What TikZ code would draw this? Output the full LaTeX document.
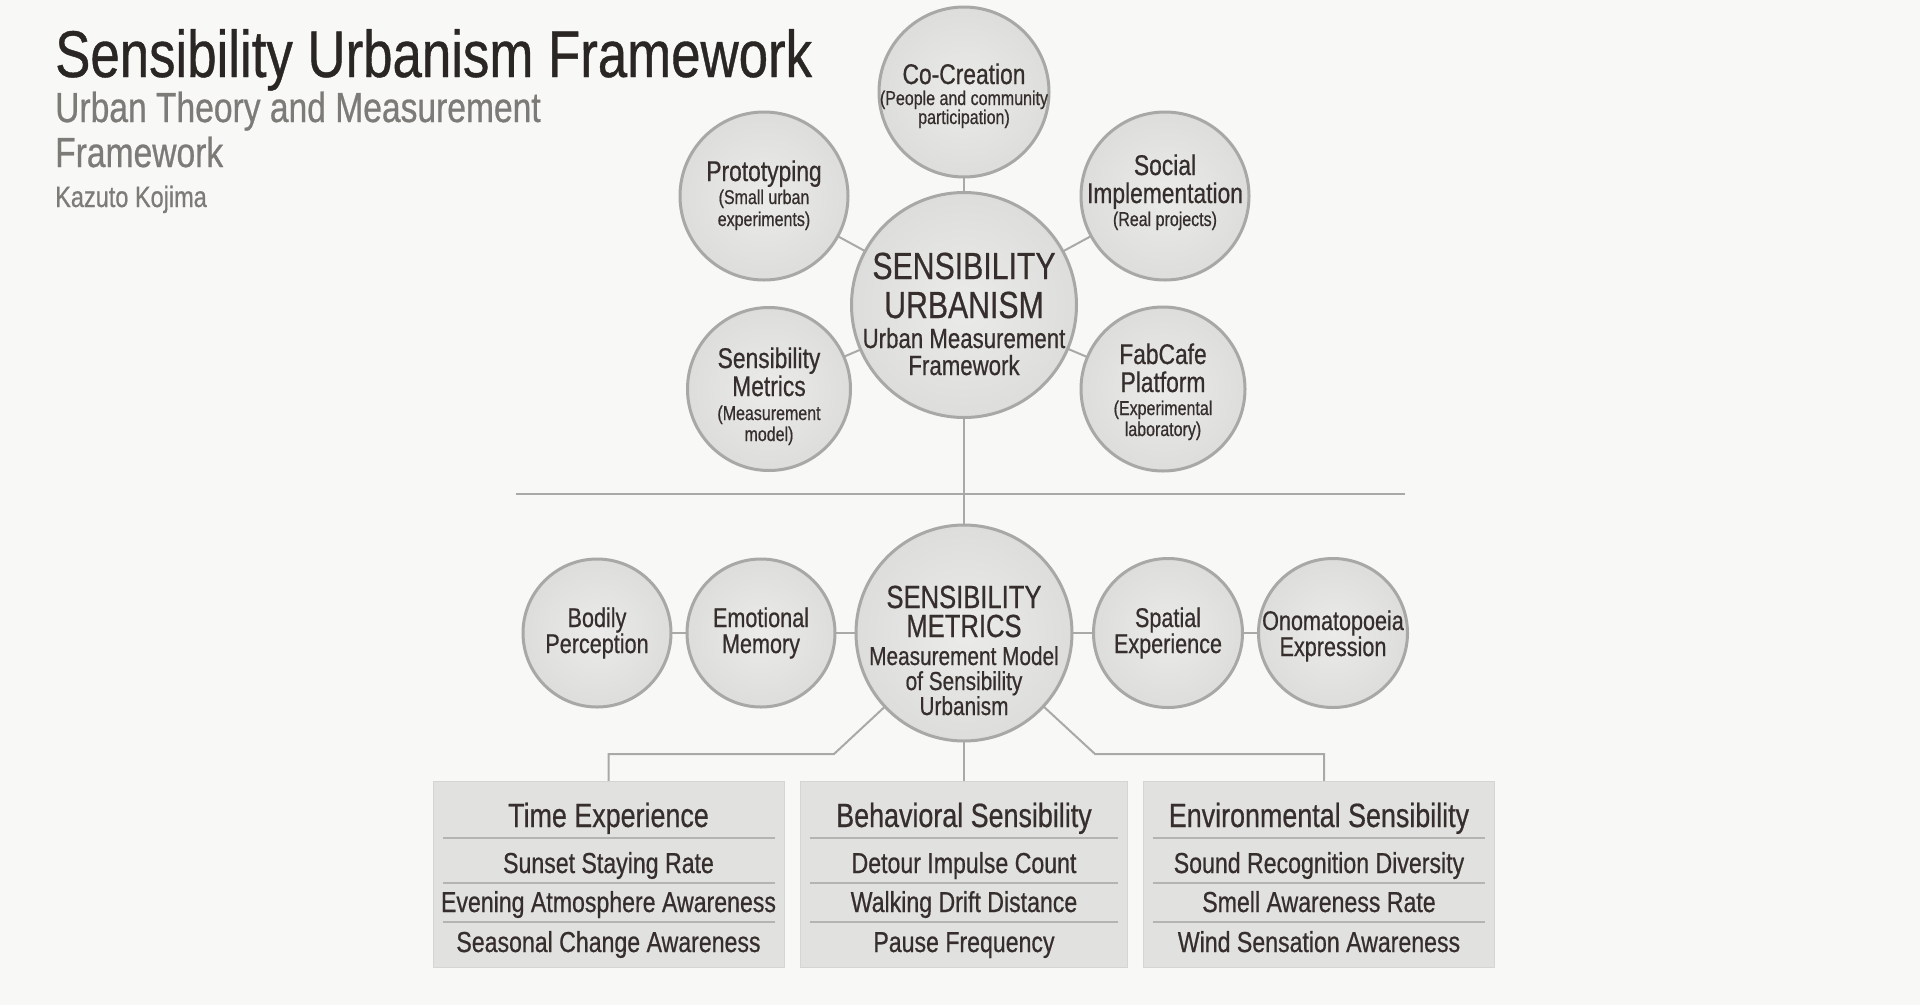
\documentclass[tikz,border=0pt]{standalone}
\usepackage{fontspec}
\setmainfont{Liberation Sans}[FakeStretch=0.8,FakeBold=0.6]
\usetikzlibrary{calc}
\definecolor{bgc}{HTML}{F8F8F6}
\definecolor{ink}{HTML}{352E2C}
\definecolor{titleink}{HTML}{2A2624}
\definecolor{subink}{HTML}{7C7B78}
\definecolor{linec}{HTML}{A9A9A7}
\definecolor{ringc}{HTML}{A8A8A6}
\definecolor{fillin}{HTML}{EBEBE9}
\definecolor{fillout}{HTML}{DDDDDB}
\definecolor{boxc}{HTML}{E1E1DF}
\definecolor{boxedge}{HTML}{D5D5D3}
\definecolor{sepc}{HTML}{B4B4B2}
\newcommand\myfs[1]{\fontsize{#1}{#1}\selectfont}
\pgfdeclarelayer{bglayer}
\pgfdeclarelayer{linklayer}
\pgfsetlayers{bglayer,linklayer,main}
\begin{document}
\begin{tikzpicture}[x=1pt,y=-1pt,
  bubble/.style={circle, draw=ringc, line width=3pt, inner sep=0pt, inner color=fillin, outer color=fillout},
  link/.style={draw=linec, line width=2pt},
  sepline/.style={draw=sepc, line width=2pt},
  lbl/.style={anchor=base, inner sep=0pt, text=ink},
  mainlbl/.style={lbl, font=\myfs{28.5}},
  sublbl/.style={lbl, font=\myfs{20}},
  biglbl/.style={lbl, font=\myfs{37.8}},
  bigsub/.style={lbl, font=\myfs{27.8}},
  lowbig/.style={lbl, font=\myfs{32}},
  lowsub/.style={lbl, font=\myfs{26}},
  smalllbl/.style={lbl, font=\myfs{27}},
  boxtitle/.style={lbl, font=\myfs{33.6}},
  boxitem/.style={lbl, font=\myfs{28.9}},
  catbox/.style={rectangle, fill=boxc, draw=boxedge, line width=1pt, anchor=north west, minimum height=186pt, inner sep=0pt},
  headtxt/.style={anchor=base west, inner sep=0pt}
]
\useasboundingbox (0,0) rectangle (1920,1005);
\begin{pgfonlayer}{bglayer}
\fill[bgc] (0,0) rectangle (1920,1005);
\end{pgfonlayer}

% header
\node[headtxt, font=\myfs{66}, text=titleink] (title) at (55,77) {Sensibility Urbanism Framework};
\node[headtxt, font=\myfs{42}, text=subink] (sub1) at (55,122) {Urban Theory and Measurement};
\node[headtxt, font=\myfs{42}, text=subink] (sub2) at (55,167) {Framework};
\node[headtxt, font=\myfs{29.4}, text=subink] (author) at (55,207) {Kazuto Kojima};

% top cluster
\node[bubble, minimum size=225pt] (um) at (964,305) {};
\node[bubble, minimum size=170pt] (co) at (964,92) {};
\node[bubble, minimum size=168pt] (pr) at (764,196) {};
\node[bubble, minimum size=168pt] (si) at (1165,196) {};
\node[bubble, minimum size=163pt] (me) at (769,389) {};
\node[bubble, minimum size=164pt] (fc) at (1163,389) {};

\node[biglbl] (um1) at ($(um)+(0,-26)$) {SENSIBILITY};
\node[biglbl] (um2) at ($(um)+(0,13)$) {URBANISM};
\node[bigsub] (um3) at ($(um)+(0,43)$) {Urban Measurement};
\node[bigsub] (um4) at ($(um)+(0,70)$) {Framework};

\node[mainlbl] (co1) at ($(co)+(0,-8)$) {Co-Creation};
\node[sublbl] (co2) at ($(co)+(0,13)$) {(People and community};
\node[sublbl] (co3) at ($(co)+(0,32)$) {participation)};

\node[mainlbl] (pr1) at ($(pr)+(0,-15)$) {Prototyping};
\node[sublbl] (pr2) at ($(pr)+(0,8)$) {(Small urban};
\node[sublbl] (pr3) at ($(pr)+(0,30)$) {experiments)};

\node[mainlbl] (si1) at ($(si)+(0,-21)$) {Social};
\node[mainlbl] (si2) at ($(si)+(0,7)$) {Implementation};
\node[sublbl] (si3) at ($(si)+(0,30)$) {(Real projects)};

\node[mainlbl] (me1) at ($(me)+(0,-21)$) {Sensibility};
\node[mainlbl] (me2) at ($(me)+(0,7)$) {Metrics};
\node[sublbl] (me3) at ($(me)+(0,31)$) {(Measurement};
\node[sublbl] (me4) at ($(me)+(0,52)$) {model)};

\node[mainlbl] (fc1) at ($(fc)+(0,-25)$) {FabCafe};
\node[mainlbl] (fc2) at ($(fc)+(0,3)$) {Platform};
\node[sublbl] (fc3) at ($(fc)+(0,26)$) {(Experimental};
\node[sublbl] (fc4) at ($(fc)+(0,47)$) {laboratory)};

% divider
\coordinate (dl) at (516,494);
\coordinate (dr) at (1405,494);

% lower cluster
\node[bubble, minimum size=216pt] (sm) at (964,633) {};
\node[bubble, minimum size=148pt] (bp) at (597,633) {};
\node[bubble, minimum size=148pt] (em) at (761,633) {};
\node[bubble, minimum size=149pt] (sx) at (1168,633) {};
\node[bubble, minimum size=149pt] (on) at (1333,633) {};

\node[lowbig] (sm1) at ($(sm)+(0,-25)$) {SENSIBILITY};
\node[lowbig] (sm2) at ($(sm)+(0,4)$) {METRICS};
\node[lowsub] (sm3) at ($(sm)+(0,32)$) {Measurement Model};
\node[lowsub] (sm4) at ($(sm)+(0,57)$) {of Sensibility};
\node[lowsub] (sm5) at ($(sm)+(0,82)$) {Urbanism};

\node[smalllbl] (bp1) at ($(bp)+(0,-6)$) {Bodily};
\node[smalllbl] (bp2) at ($(bp)+(0,20)$) {Perception};
\node[smalllbl] (em1) at ($(em)+(0,-6)$) {Emotional};
\node[smalllbl] (em2) at ($(em)+(0,20)$) {Memory};
\node[smalllbl] (sx1) at ($(sx)+(0,-6)$) {Spatial};
\node[smalllbl] (sx2) at ($(sx)+(0,20)$) {Experience};
\node[smalllbl] (on1) at ($(on)+(0,-3)$) {Onomatopoeia};
\node[smalllbl] (on2) at ($(on)+(0,23)$) {Expression};

% boxes
\node[catbox, minimum width=351pt] (b1) at (432.5,781) {};
\node[catbox, minimum width=327pt] (b2) at (800,781) {};
\node[catbox, minimum width=351pt] (b3) at (1143,781) {};

\foreach \b in {b1,b2,b3}{
  \draw[sepline] ($(\b.north west)+(10,57)$) -- ($(\b.north east)+(-10,57)$);
  \draw[sepline] ($(\b.north west)+(10,102)$) -- ($(\b.north east)+(-10,102)$);
  \draw[sepline] ($(\b.north west)+(10,141)$) -- ($(\b.north east)+(-10,141)$);
}

\node[boxtitle] (b1t) at ($(b1.north)+(0,46)$) {Time Experience};
\node[boxitem] (b1a) at ($(b1.north)+(0,92)$) {Sunset Staying Rate};
\node[boxitem] (b1b) at ($(b1.north)+(0,131)$) {Evening Atmosphere Awareness};
\node[boxitem] (b1c) at ($(b1.north)+(0,171)$) {Seasonal Change Awareness};

\node[boxtitle] (b2t) at ($(b2.north)+(0,46)$) {Behavioral Sensibility};
\node[boxitem] (b2a) at ($(b2.north)+(0,92)$) {Detour Impulse Count};
\node[boxitem] (b2b) at ($(b2.north)+(0,131)$) {Walking Drift Distance};
\node[boxitem] (b2c) at ($(b2.north)+(0,171)$) {Pause Frequency};

\node[boxtitle] (b3t) at ($(b3.north)+(0,46)$) {Environmental Sensibility};
\node[boxitem] (b3a) at ($(b3.north)+(0,92)$) {Sound Recognition Diversity};
\node[boxitem] (b3b) at ($(b3.north)+(0,131)$) {Smell Awareness Rate};
\node[boxitem] (b3c) at ($(b3.north)+(0,171)$) {Wind Sensation Awareness};

\coordinate (k1) at (834,754);
\coordinate (k3) at (1095,754);

\begin{pgfonlayer}{linklayer}
\draw[link] (um.center) -- (co.center);
\draw[link] (um.center) -- (pr.center);
\draw[link] (um.center) -- (si.center);
\draw[link] (um.center) -- (me.center);
\draw[link] (um.center) -- (fc.center);
\draw[link] (um.center) -- (sm.center);
\draw[link] (dl) -- (dr);
\draw[link] (bp.center) -- (em.center) -- (sm.center) -- (sx.center) -- (on.center);
\draw[link] (b1.north) |- (k1) -- (sm.center);
\draw[link] (sm.center) -- (b2.north);
\draw[link] ([xshift=5pt]b3.north) |- (k3) -- (sm.center);
\end{pgfonlayer}
\end{tikzpicture}
\end{document}
